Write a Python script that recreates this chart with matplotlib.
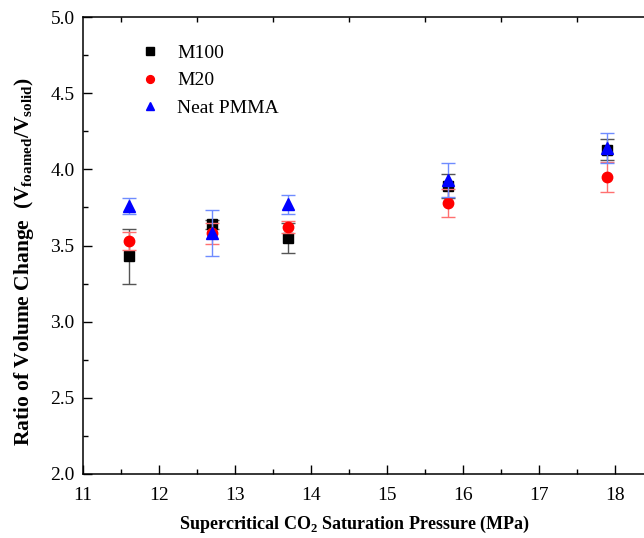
import matplotlib.pyplot as plt
from matplotlib.ticker import MultipleLocator, FixedLocator

plt.rcParams['font.family'] = 'Liberation Serif'
plt.rcParams['mathtext.fontset'] = 'custom'
plt.rcParams['mathtext.rm'] = 'Liberation Serif'
plt.rcParams['mathtext.bf'] = 'Liberation Serif:bold'

# pressao de saturacao (MPa)
pressure = [11.6, 12.7, 13.7, 15.8, 17.9]

# razao de expansao volumetrica e desvio de cada amostra
m100 = [3.43, 3.64, 3.55, 3.89, 4.13]
m100_err = [0.18, 0.03, 0.10, 0.08, 0.07]
m20 = [3.53, 3.58, 3.62, 3.78, 3.95]
m20_err = [0.06, 0.07, 0.04, 0.09, 0.10]
pmma = [3.76, 3.58, 3.77, 3.93, 4.14]
pmma_err = [0.05, 0.15, 0.06, 0.11, 0.10]

series = [
    ("M100", m100, m100_err, "s", "black", "#555555", 7),
    ("M20", m20, m20_err, "o", "red", "#ff7070", 7.5),
    ("Neat PMMA", pmma, pmma_err, "^", "blue", "#6f8cff", 8.5),
]

fig = plt.figure(figsize=(6.44, 5.38), dpi=100)
ax = fig.add_axes([83 / 644, 64 / 538, 608 / 644, 457 / 538])

handles = []
for nome, y, err, mk, cor, cor_err, ms in series:
    ax.errorbar(pressure, y, yerr=err, fmt="none", ecolor=cor_err,
                elinewidth=1, capsize=5, capthick=1)
    h, = ax.plot(pressure, y, linestyle="none", marker=mk, color=cor,
                 markersize=ms, label=nome)
    handles.append(h)

ax.set_xlim(11, 19)
ax.set_ylim(2.0, 5.0)
ax.xaxis.set_major_locator(FixedLocator(range(11, 19)))
ax.xaxis.set_minor_locator(MultipleLocator(0.5))
ax.yaxis.set_major_locator(MultipleLocator(0.5))
ax.yaxis.set_minor_locator(MultipleLocator(0.25))
ax.yaxis.set_major_formatter(plt.FormatStrFormatter("%.1f"))
ax.tick_params(which="both", direction="in", right=False, labelsize=14, width=1)
ax.tick_params(which="major", length=6.5, pad=6, top=False)
ax.tick_params(axis="x", which="major", pad=9)
ax.tick_params(which="minor", length=3.5, top=True)
for s in ax.spines.values():
    s.set_linewidth(1.1)

ax.set_xlabel(r"Supercritical CO$_\mathbf{2}$ Saturation Pressure (MPa)",
              fontsize=13, fontweight="bold")
ax.xaxis.set_label_coords(0.447, -0.088)
ax.set_ylabel(r"Ratio of Volume Change  (V$_\mathbf{foamed}$/V$_\mathbf{solid}$)",
              fontsize=15.5, fontweight="bold")
ax.yaxis.set_label_coords(-0.077, 0.464)

ax.legend(handles=handles, loc="upper left", bbox_to_anchor=(0.065, 0.978),
          frameon=False, fontsize=14, handletextpad=0.9, labelspacing=0.5,
          handlelength=1.0, markerscale=0.75)

plt.savefig("out.png", dpi=100)
